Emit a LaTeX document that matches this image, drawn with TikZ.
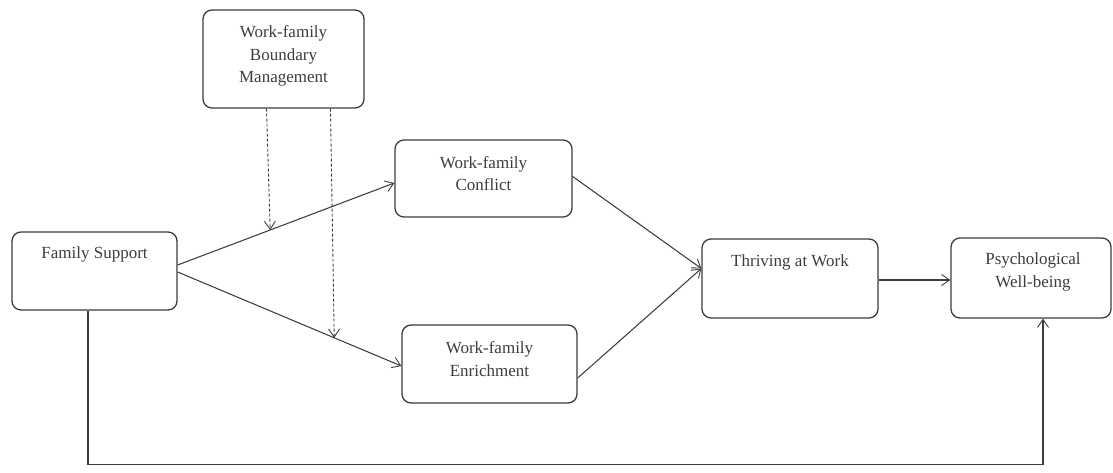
\documentclass[tikz,border=0pt]{standalone}
\usepackage{fontspec}
\setmainfont{Liberation Serif}
\usetikzlibrary{arrows.meta,calc}
\definecolor{ink}{HTML}{3C3C3C}
\begin{document}
\begin{tikzpicture}[x=1pt,y=-1pt,
  box/.style={draw=ink,line width=1.3pt,rounded corners=9pt,inner sep=0pt},
  lbl/.style={text=ink,align=center,inner sep=0pt,font=\fontsize{17}{22.5}\selectfont},
  arr/.style={draw=ink,line width=1.05pt,-{Straight Barb[length=8pt,width=11pt,line width=0.9pt]}},
  darr/.style={arr,dash pattern=on 3pt off 2pt,line width=0.9pt}]
\useasboundingbox (0,0) rectangle (1113,472);
% boxes
\node[box,minimum width=161pt,minimum height=98pt] (bm) at (283.5,59) {};
\node[box,minimum width=165pt,minimum height=78pt] (fs) at (94.5,271) {};
\node[box,minimum width=177pt,minimum height=77pt] (wfc) at (483.5,178.5) {};
\node[box,minimum width=175pt,minimum height=78pt] (wfe) at (489.5,364) {};
\node[box,minimum width=176pt,minimum height=79pt] (tw) at (790,278.5) {};
\node[box,minimum width=160pt,minimum height=80pt] (pw) at (1031,278) {};
% labels
\node[lbl] (bmT) at (283.5,56) {Work-family\\Boundary\\Management};
\node[lbl] (fsT) at (94.5,254) {Family Support};
\node[lbl] (wfcT) at (483.5,173.5) {Work-family\\Conflict};
\node[lbl] (wfeT) at (489.5,359) {Work-family\\Enrichment};
\node[lbl] (twT) at (790,262) {Thriving at Work};
\node[lbl] (pwT) at (1033,272) {Psychological\\Well-being};
% main paths
\draw[arr] ($(fs.east)+(0,-6)$) -- ($(wfc.west)+(0,4.5)$)
  coordinate[pos=0.427] (m1);
\draw[arr] ($(fs.east)+(0,1)$) -- ($(wfe.west)+(0,2)$)
  coordinate[pos=0.7] (m2);
\draw[arr] ($(wfc.east)+(0,-2)$) -- ($(tw.west)+(0,-10)$);
\draw[arr] ($(wfe.east)+(0,14)$) -- ($(tw.west)+(0,-10)$);
\draw[arr] ($(tw.east)+(0,1.5)$) -- ($(pw.west)+(0,2)$);
\draw[arr] ($(fs.south)+(-6.5,0)$) -- ++(0,154) -| ($(pw.south)+(12,0)$);
% moderating dashed paths
\draw[darr] ($(bm.south)+(-17,0)$) -- (m1);
\draw[darr] ($(bm.south)+(47,0)$) -- (m2);
\end{tikzpicture}
\end{document}
